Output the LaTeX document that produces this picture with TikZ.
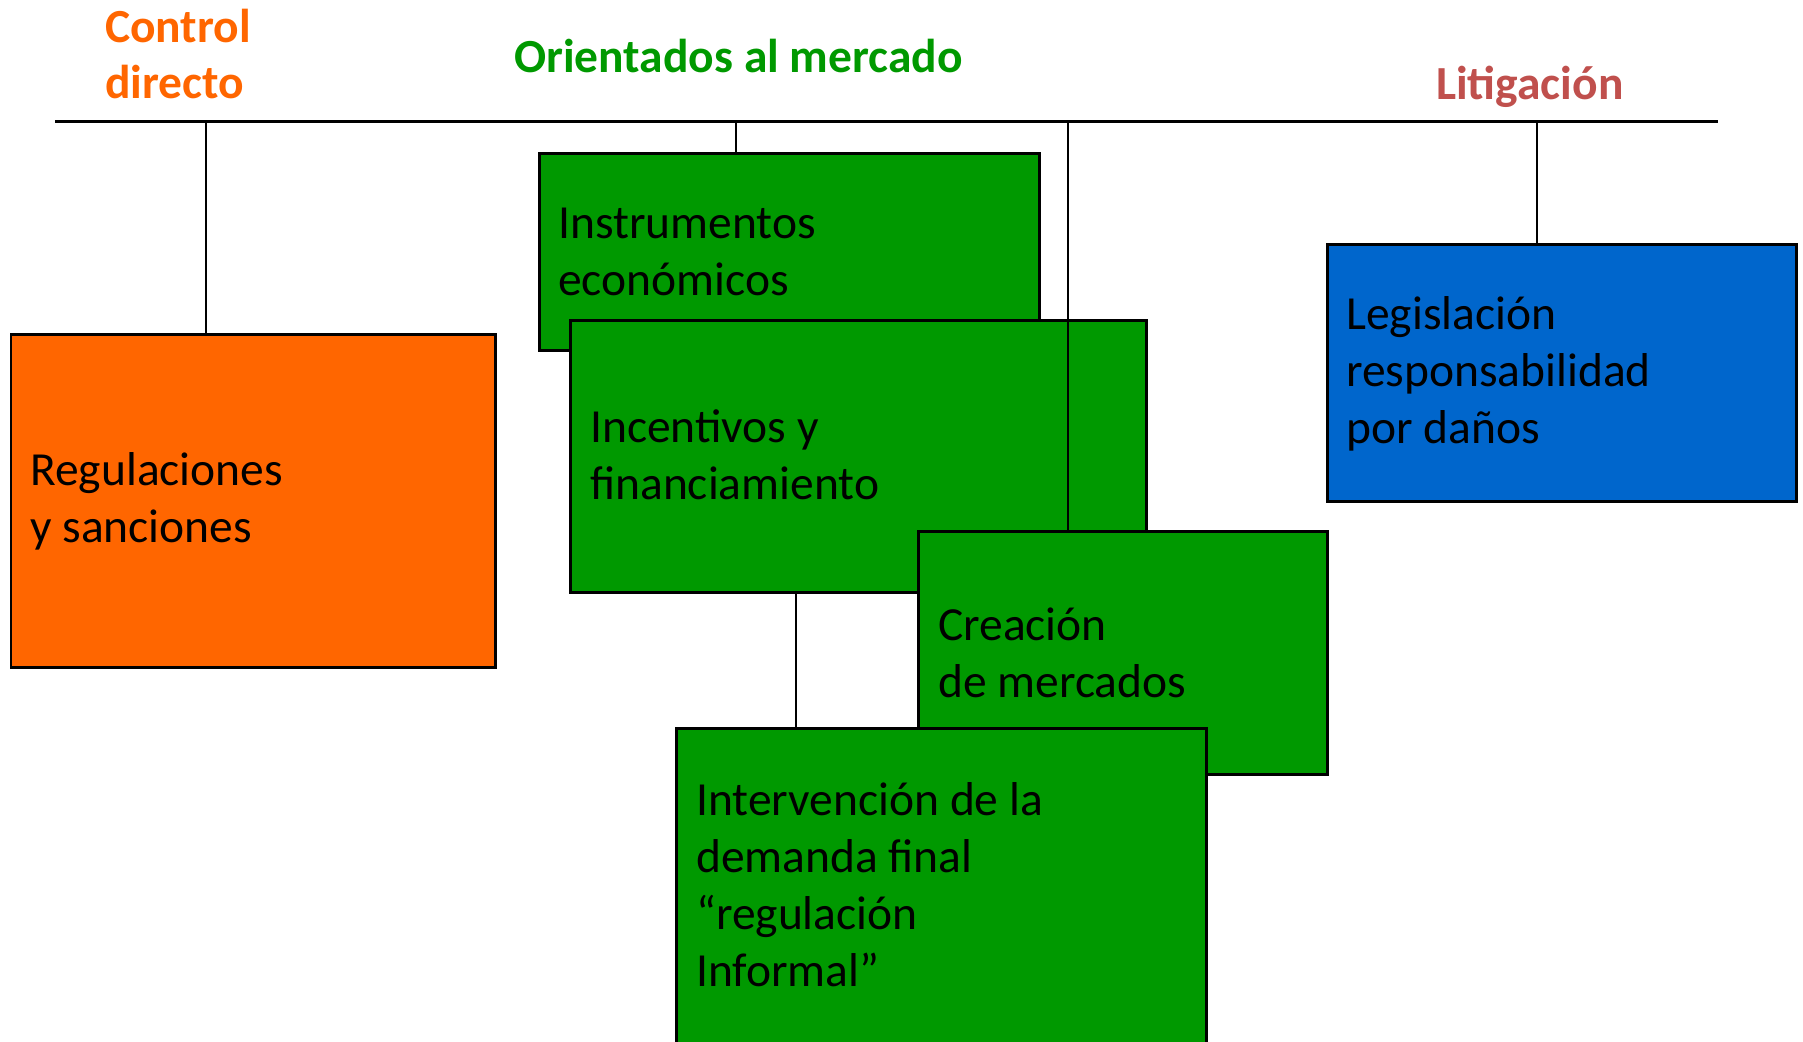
\documentclass[tikz,border=0pt]{standalone}
\usepackage{fontspec}
\setmainfont{Carlito}
\definecolor{corange}{HTML}{FF6600}
\definecolor{cgreen}{HTML}{009900}
\definecolor{cblue}{HTML}{0066CC}
\definecolor{cred}{HTML}{C0504D}
\begin{document}
\begin{tikzpicture}[x=1pt,y=-1pt,
  box/.style={draw=black,line width=2.6pt,anchor=north west,inner sep=0pt,rectangle},
  conn/.style={draw=black,line width=2pt},
  title/.style={anchor=base west,inner sep=0pt,font=\fontsize{47.5}{55}\selectfont\bfseries},
  txt/.style={anchor=base west,inner sep=0pt,text=black,font=\fontsize{47.5}{57}\selectfont}]
\useasboundingbox (0,0) rectangle (1803,1041);
\clip (0,0) rectangle (1803,1041);
\fill[white] (0,0) rectangle (1803,1041);
% top line
\coordinate (tl) at (55,121.7);
\coordinate (tr) at (1718,121.7);
\draw[conn,line width=2.6pt] (tl) -- (tr);
% titles
\node[title,text=corange] (tctrl) at (105,43) {\vtop{\hbox{Control}\hbox{directo}}};
\node[title,text=cgreen] (tmerc) at (514,72) {Orientados al mercado};
\node[title,text=cred] (tlit) at (1436,99) {Litigación};
% boxes
\node[box,fill=corange,minimum width=484.5pt,minimum height=333pt] (reg) at (9.6,333) {};
\node[box,fill=cgreen,minimum width=500pt,minimum height=197pt] (instr) at (538,152) {};
\node[box,fill=cgreen,minimum width=576pt,minimum height=272pt] (incent) at (569,319) {};
\node[box,fill=cblue,minimum width=469pt,minimum height=257pt] (legis) at (1326,243) {};
% connectors to the top line
\coordinate (c1) at (206,121.7);
\coordinate (c2) at (736,121.7);
\coordinate (c3) at (1068,121.7);
\coordinate (c4) at (1537,121.7);
\draw[conn] (c1) -- (c1 |- reg.north);
\draw[conn] (c2) -- (c2 |- instr.north);
\draw[conn] (c4) -- (c4 |- legis.north);
\node[box,fill=cgreen,minimum width=409pt,minimum height=243pt] (crea) at (917,530) {};
\draw[conn] (c3) -- (c3 |- crea.north);
\coordinate (c5) at (796,591);
\node[box,fill=cgreen,minimum width=530pt,minimum height=343pt] (interv) at (675,727) {};
\draw[conn] (c5 |- incent.south) -- (c5 |- interv.north);
% box texts
\node[txt] (treg) at (30,485) {\vtop{\hbox{Regulaciones}\hbox{y sanciones}}};
\node[txt] (tinstr) at (558,238) {\vtop{\hbox{Instrumentos}\hbox{económicos}}};
\node[txt] (tinc) at (590,442) {\vtop{\hbox{Incentivos y}\hbox{financiamiento}}};
\node[txt] (tleg) at (1346,329) {\vtop{\hbox{Legislación}\hbox{responsabilidad}\hbox{por daños}}};
\node[txt] (tcrea) at (938,640) {\vtop{\hbox{Creación}\hbox{de mercados}}};
\node[txt] (tint) at (696,815) {\vtop{\hbox{Intervención de la}\hbox{demanda final}\hbox{“regulación}\hbox{Informal”}}};
\end{tikzpicture}
\end{document}
